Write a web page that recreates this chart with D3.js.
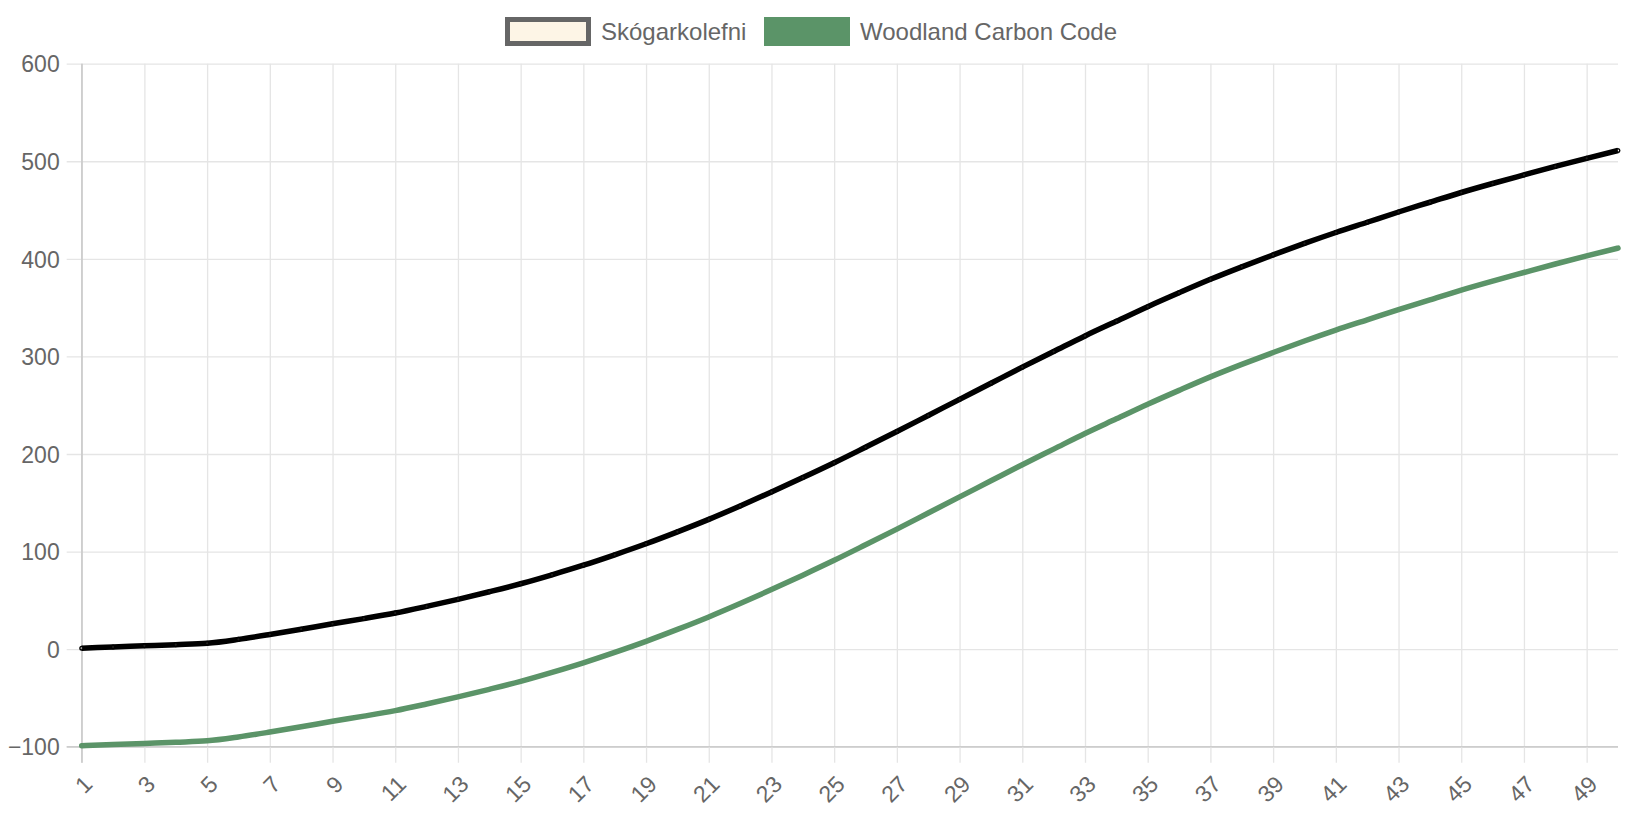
<!DOCTYPE html>
<html>
<head>
<meta charset="utf-8">
<script src="https://cdn.jsdelivr.net/npm/d3@7"></script>
<style>
  html, body { margin: 0; padding: 0; background: #fff; }
  svg { display: block; }
</style>
</head>
<body>
<div id="chart"></div>
<script>
// x categories (years)
const categories = [1, 2, 3, 4, 5, 6, 7, 8, 9, 10, 11, 12, 13, 14, 15, 16, 17, 18, 19, 20,
  21, 22, 23, 24, 25, 26, 27, 28, 29, 30, 31, 32, 33, 34, 35, 36, 37, 38, 39, 40,
  41, 42, 43, 44, 45, 46, 47, 48, 49, 50]

// series
const skogarkolefni = [1, 2.2, 3.4, 4.6, 6, 10, 15, 20.4, 26, 31.3, 37, 43.8, 51, 58.8, 67, 76.2, 86, 96.7, 108, 120.2,
  133, 146.7, 161, 175.8, 191, 206.9, 223, 239.5, 256, 272.5, 289, 305, 321, 336, 351, 365.2, 379, 391.8, 404, 415.8,
  427, 437.5, 448, 458, 468, 477.2, 486, 494.7, 503, 511]
const woodlandCarbonCode = [-99, -97.8, -96.6, -95.4, -94, -90, -85, -79.6, -74, -68.7, -63, -56.2, -49, -41.2, -33, -23.8, -14, -3.3, 8, 20.2,
  33, 46.7, 61, 75.8, 91, 106.9, 123, 139.5, 156, 172.5, 189, 205, 221, 236, 251, 265.2, 279, 291.8, 304, 315.8,
  327, 337.5, 348, 358, 368, 377.2, 386, 394.7, 403, 411]

const yTicks = [-100, 0, 100, 200, 300, 400, 500, 600]
const xTickLabels = categories.filter((d, i) => i % 2 === 0)

const seriesNames = ['Skógarkolefni', 'Woodland Carbon Code']

const width = 1628
const height = 814
const plotLeft = 81.7
const plotRight = 1618
const plotTop = 63.7
const plotBottom = 746.7
const font = '"Liberation Sans", Arial, Helvetica, sans-serif'
const textColor = '#666'
const gridColor = '#e5e5e5'
const axisColor = '#cdcdcd'
const green = '#5b9468'

const svg = d3.select('#chart')
  .append('svg')
  .attr('width', width)
  .attr('height', height)
  .style('font-family', font)

const x = d3.scalePoint()
  .domain(categories)
  .range([plotLeft, plotRight])

const y = d3.scaleLinear()
  .domain([-100, 600])
  .range([plotBottom, plotTop])

// horizontal grid + y ticks
const gy = svg.append('g')
  .attr('transform', `translate(${plotLeft},0)`)
  .call(d3.axisLeft(y).tickValues(yTicks).tickSize(15).tickPadding(7))
gy.select('.domain').remove()
gy.selectAll('.tick line')
  .attr('x2', -15)
  .attr('x1', plotRight - plotLeft)
  .attr('stroke', (d) => d === -100 ? axisColor : gridColor)
  .attr('stroke-width', 1.3)
gy.selectAll('.tick text')
  .attr('fill', textColor)
  .attr('font-size', 23)
  .attr('dy', '0.36em')
  .text((d) => d < 0 ? '\u2212' + Math.abs(d) : d)

// vertical grid + x ticks
const gx = svg.append('g')
  .attr('transform', `translate(0,${plotBottom})`)
  .call(d3.axisBottom(x).tickValues(xTickLabels).tickSize(16))
gx.select('.domain').remove()
gx.selectAll('.tick line')
  .attr('y1', plotTop - plotBottom)
  .attr('y2', 16)
  .attr('stroke', (d) => d === 1 ? axisColor : gridColor)
  .attr('stroke-width', 1.3)
gx.selectAll('.tick text')
  .attr('fill', textColor)
  .attr('font-size', 23)
  .attr('x', 0)
  .attr('y', 0)
  .attr('dy', '0.35em')
  .attr('text-anchor', 'end')
  .attr('transform', `translate(6,${780 - plotBottom}) rotate(-45)`)

// axis lines on top of the grid
svg.append('line')
  .attr('x1', plotLeft).attr('x2', plotLeft)
  .attr('y1', plotTop).attr('y2', plotBottom + 16)
  .attr('stroke', axisColor)
  .attr('stroke-width', 1.3)
svg.append('line')
  .attr('x1', plotLeft - 15).attr('x2', plotRight)
  .attr('y1', plotBottom).attr('y2', plotBottom)
  .attr('stroke', axisColor)
  .attr('stroke-width', 1.3)

const line = d3.line()
  .x((d, i) => x(categories[i]))
  .y((d) => y(d))
  .curve(d3.curveMonotoneX)

svg.append('path')
  .datum(woodlandCarbonCode)
  .attr('d', line)
  .attr('fill', 'none')
  .attr('stroke', green)
  .attr('stroke-width', 5.5)
  .attr('stroke-linecap', 'round')

svg.append('path')
  .datum(skogarkolefni)
  .attr('d', line)
  .attr('fill', 'none')
  .attr('stroke', '#000')
  .attr('stroke-width', 5.5)

svg.append('g')
  .selectAll('circle')
  .data(skogarkolefni)
  .enter()
  .append('circle')
  .attr('cx', (d, i) => x(categories[i]))
  .attr('cy', (d) => y(d))
  .attr('r', 1.8)
  .attr('fill', '#fdf5e6')
  .attr('fill-opacity', 0.12)
  .attr('stroke', '#000')
  .attr('stroke-width', 1.4)

// legend
const legendItems = [
  {name: seriesNames[0], x: 505, fill: '#fdf5e6', stroke: '#666'},
  {name: seriesNames[1], x: 764, fill: green, stroke: green}
]
const lg = svg.append('g')
  .selectAll('g')
  .data(legendItems)
  .enter()
  .append('g')

lg.append('rect')
  .attr('x', (d) => d.x + 2.5)
  .attr('y', 19.5)
  .attr('width', 81)
  .attr('height', 24)
  .attr('fill', (d) => d.fill)
  .attr('stroke', (d) => d.stroke)
  .attr('stroke-width', 5)

lg.append('text')
  .attr('x', (d) => d.x + 96)
  .attr('y', 31.5)
  .attr('dy', '0.35em')
  .attr('font-size', 24)
  .attr('fill', textColor)
  .text((d) => d.name)
</script>
</body>
</html>
